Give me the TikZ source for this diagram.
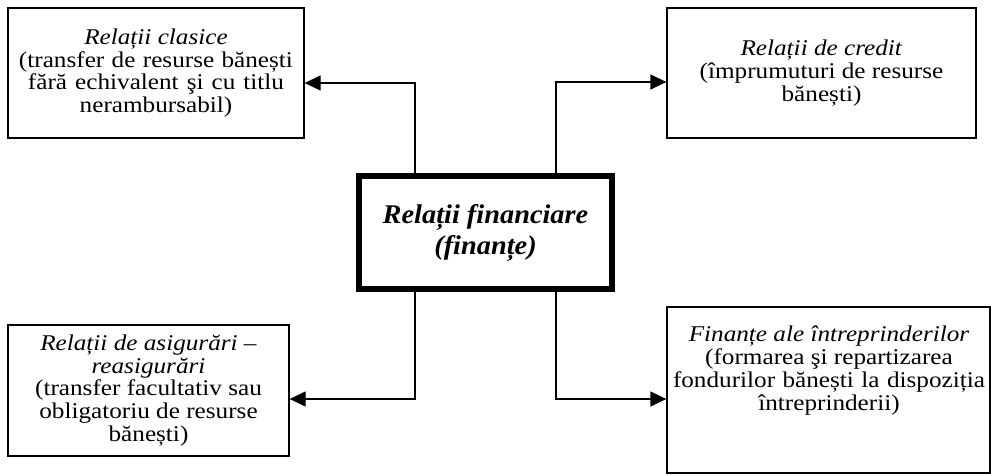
\documentclass[tikz,border=0pt]{standalone}
\usepackage{fontspec}
\setmainfont{Liberation Serif}[FakeStretch=1.12]
\newfontfamily\cfont{Liberation Serif}[FakeStretch=1.05]
\usetikzlibrary{arrows.meta}
\newcommand\jline[2]{\makebox[#1][s]{#2}}
\tikzset{
  box/.style={draw, line width=1.3pt, inner sep=2pt, align=center,
    font=\fontsize{22.5}{22.8}\selectfont},
  txt/.style={inner sep=0pt, align=center, font=\fontsize{22.5}{22.8}\selectfont},
  centerbox/.style={draw, line width=6.5pt, align=center,
    font=\cfont\bfseries\itshape\fontsize{27}{31}\selectfont},
  arr/.style={line width=1.3pt, -{Triangle[length=16pt,width=15pt]}}
}
\begin{document}
\begin{tikzpicture}[x=1pt,y=-1pt]
\useasboundingbox (0,0) rectangle (991,475);
\node[centerbox, minimum width=253pt, minimum height=113pt] (c) at (485.5,232.5)
  {Relații financiare\\(finanțe)};
\node[box, minimum width=296pt, minimum height=130pt] (tl) at (156,73)
  {\textit{Relații clasice}\\\jline{274pt}{(transfer de resurse bănești}\\\jline{256pt}{fără echivalent şi cu titlu}\\nerambursabil)};
\node[box, minimum width=309pt, minimum height=130pt] (tr) at (821.5,73)
  {\textit{Relații de credit}\\(împrumuturi de resurse\\bănești)};
\node[box, minimum width=281pt, minimum height=131pt] (bl) at (148.5,390.5)
  {\textit{Relații de asigurări –}\\\textit{reasigurări}\\(transfer facultativ sau\\obligatoriu de resurse\\bănești)};
\node[box, minimum width=323pt, minimum height=166pt] (br) at (828.5,390) {};
\node[txt, anchor=north] (brt) at (829,326)
  {\textit{Finanțe ale întreprinderilor}\\(formarea şi repartizarea\\\jline{312pt}{fondurilor bănești la dispoziția}\\întreprinderii)};
\coordinate (lx) at (415,0);
\coordinate (rx) at (556,0);
\draw[arr] (c.north -| lx) |- ([yshift=-10pt]tl.east);
\draw[arr] (c.north -| rx) |- ([yshift=-9pt]tr.west);
\draw[arr] (c.south -| lx) |- ([yshift=-8.5pt]bl.east);
\draw[arr] (c.south -| rx) |- ([yshift=-9pt]br.west);
\end{tikzpicture}
\end{document}
